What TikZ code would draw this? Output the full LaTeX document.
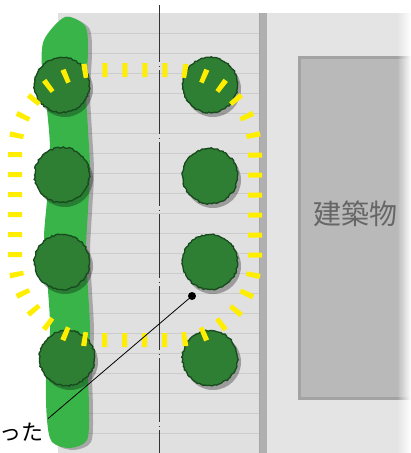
\documentclass[tikz,border=0pt]{standalone}
\usepackage{fontspec}
\newfontfamily\jpfont{Noto Sans CJK JP}
\usetikzlibrary{positioning,decorations.pathmorphing,fadings}

\definecolor{roadgray}{HTML}{E0E0E0}
\definecolor{stripe}{HTML}{CCCCCC}
\definecolor{curb}{HTML}{B0B0B0}
\definecolor{sidegray}{HTML}{E4E4E4}
\definecolor{bldg}{HTML}{B9B9B9}
\definecolor{bldgedge}{HTML}{A3A3A3}
\definecolor{bldgtext}{HTML}{666666}
\definecolor{hedge}{HTML}{38B449}
\definecolor{treegreen}{HTML}{2E7E34}
\definecolor{treedark}{HTML}{184A1D}
\definecolor{ringyellow}{HTML}{FFEE00}

\tikzset{
  tree/.style={circle, minimum size=55pt, inner sep=0pt, fill=treegreen,
    draw=treedark, line width=1.3pt, decorate,
    decoration={random steps, segment length=2pt, amplitude=0.8pt}},
  treeshadow/.style={fill=black, opacity=0.3},
  ring/.style={draw=ringyellow, line width=14pt, dash pattern=on 5pt off 15pt},
  centerline/.style={draw=black!80, line width=1pt,
    dash pattern=on 64pt off 3.5pt on 1pt off 3.5pt, dash phase=7pt}
}

\begin{document}
\begin{tikzpicture}[x=1pt, y=-1pt]
  \useasboundingbox (0,0) rectangle (411,453);

  % road, curb and the strip in front of the building
  \fill[roadgray] (58,13) rectangle (259,453);
  \foreach \y in {33,53,...,453}
    \draw[stripe, line width=1pt] (58,\y) -- (259,\y);
  \fill[sidegray] (266,13) rectangle (411,453);
  \fill[curb] (259,13) rectangle (267,453);
  \draw[black!35, line width=0.8pt] (259,13) -- (259,453);
  \draw[centerline] (159,5) -- (159,453);

  % building
  \node[fill=bldg, draw=bldgedge, line width=3pt, minimum width=112pt,
    minimum height=341pt, inner sep=0pt] (bldg) at (355,227.5) {};
  \node[text=bldgtext, font=\jpfont\fontsize{28}{30}\selectfont] (bldglabel)
    at (355,214) {建築物};
  \fill[white, path fading=west] (397,0) rectangle (411,453);

  % hedge
  \fill[black, opacity=0.25, xshift=4pt, yshift=-2pt] plot[smooth cycle] coordinates {
    (44,40) (42,70) (47,110) (50,150) (47,200) (44,240) (48,290) (50,330)
    (46,380) (47,420) (52,442) (70,448) (87,440) (89,410) (88,370) (90,330)
    (88,290) (86,250) (88,210) (90,170) (88,130) (86,90) (88,50) (85,26) (65,17)};
  \fill[hedge] plot[smooth cycle] coordinates {
    (44,40) (42,70) (47,110) (50,150) (47,200) (44,240) (48,290) (50,330)
    (46,380) (47,420) (52,442) (70,448) (87,440) (89,410) (88,370) (90,330)
    (88,290) (86,250) (88,210) (90,170) (88,130) (86,90) (88,50) (85,26) (65,17)};

  % trees
  \foreach \x/\y/\n in {62/85/L1, 62/175/L2, 62/262/L3, 67/358/L4,
                        210/85/R1, 210/176/R2, 210/262/R3, 210/358/R4} {
    \fill[treeshadow] (\x+3,\y+4) circle (28pt);
    \node[tree] (\n) at (\x,\y) {};
  }

  % yellow ring
  \draw[ring, rounded corners=82pt] (15,70) rectangle (255,340);

  % pointer
  \node[circle, fill=black, inner sep=0pt, minimum size=8pt] (dot) at (192,296) {};
  \node[anchor=east, inner sep=4pt, font=\jpfont\fontsize{22}{24}\selectfont]
    (lbl) at (48,432) {った};
  \draw[line width=0.8pt] (dot) -- (lbl.north east);

\end{tikzpicture}
\end{document}
